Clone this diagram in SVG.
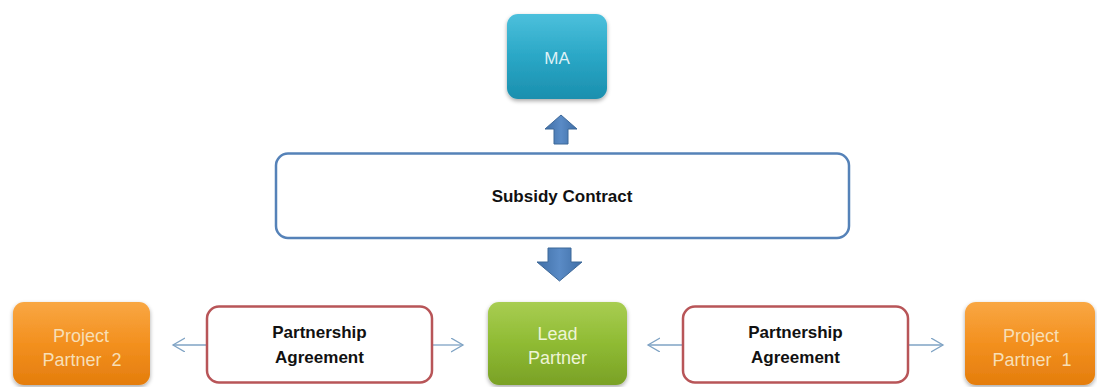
<svg xmlns="http://www.w3.org/2000/svg" width="1097" height="387" viewBox="0 0 1097 387">
<style>
  .lbl{font-family:"Liberation Sans",Arial,sans-serif;text-anchor:middle;white-space:pre}
  .bold{font-weight:bold;fill:#111;font-size:17px}
  .light{font-size:18px}
  .doc{fill:#fff;stroke-width:2.5}
  .conn{stroke:#7fa3c4;stroke-width:1.3;fill:none}
  .block{stroke:#3d6898;stroke-width:1}
</style>
<defs>
  <linearGradient id="gTeal" x1="0" y1="0" x2="0" y2="1">
    <stop offset="0" stop-color="#4cc0dc"/>
    <stop offset="0.5" stop-color="#2aa7c6"/>
    <stop offset="1" stop-color="#1b8fae"/>
  </linearGradient>
  <linearGradient id="gOrange" x1="0" y1="0" x2="0" y2="1">
    <stop offset="0" stop-color="#f9a743"/>
    <stop offset="0.5" stop-color="#f3901f"/>
    <stop offset="1" stop-color="#e47d0c"/>
  </linearGradient>
  <linearGradient id="gGreen" x1="0" y1="0" x2="0" y2="1">
    <stop offset="0" stop-color="#a8cd52"/>
    <stop offset="0.5" stop-color="#8fbb33"/>
    <stop offset="1" stop-color="#7aa126"/>
  </linearGradient>
  <linearGradient id="gBlue" x1="0" y1="0" x2="1" y2="0">
    <stop offset="0" stop-color="#3f6ea6"/>
    <stop offset="0.5" stop-color="#5a8bc6"/>
    <stop offset="1" stop-color="#3f6ea6"/>
  </linearGradient>
  <filter id="shadow" x="-10%" y="-10%" width="120%" height="130%">
    <feGaussianBlur in="SourceAlpha" stdDeviation="2"/>
    <feOffset dx="0" dy="2" result="b"/>
    <feComponentTransfer><feFuncA type="linear" slope="0.35"/></feComponentTransfer>
    <feMerge><feMergeNode/><feMergeNode in="SourceGraphic"/></feMerge>
  </filter>
  <marker id="chev" markerUnits="userSpaceOnUse" markerWidth="14" markerHeight="16" refX="12" refY="7" orient="auto">
    <path d="M0,0 L12,7 L0,14" fill="none" stroke="#7fa3c4" stroke-width="1.3"/>
  </marker>
</defs>

<g id="connectors">
  <polygon class="block" fill="url(#gBlue)" points="561,115 577,129 568,129 568,144 554,144 554,129 545,129"/>
  <polygon class="block" fill="url(#gBlue)" points="548,248 571,248 571,262 582,262 559.5,281 537,262 548,262"/>
  <line class="conn" x1="206" y1="345" x2="173" y2="345" marker-end="url(#chev)"/>
  <line class="conn" x1="432" y1="345" x2="463" y2="345" marker-end="url(#chev)"/>
  <line class="conn" x1="683" y1="345" x2="648" y2="345" marker-end="url(#chev)"/>
  <line class="conn" x1="908" y1="345" x2="943" y2="345" marker-end="url(#chev)"/>
</g>

<g id="ma">
  <rect x="507" y="14" width="100" height="85" rx="11" fill="url(#gTeal)" filter="url(#shadow)"/>
  <text class="lbl" x="557" y="64" font-size="17" fill="#dff1f6">MA</text>
</g>

<g id="subsidy-contract">
  <rect class="doc" x="276" y="153.5" width="573" height="84.5" rx="12" stroke="#5582b8"/>
  <text class="lbl bold" x="562" y="202">Subsidy Contract</text>
</g>

<g id="project-partner-2">
  <rect x="13" y="302" width="137" height="83" rx="11" fill="url(#gOrange)" filter="url(#shadow)"/>
  <text class="lbl light" x="81" y="342" fill="#f7dfb6">Project</text>
  <text class="lbl light" x="82" y="366" fill="#f7dfb6">Partner  2</text>
</g>

<g id="pa-left">
  <rect class="doc" x="207" y="306.5" width="225" height="76" rx="12" stroke="#b85558"/>
  <text class="lbl bold" x="319.5" y="338">Partnership</text>
  <text class="lbl bold" x="319.5" y="363">Agreement</text>
</g>

<g id="lead-partner">
  <rect x="488" y="302" width="139" height="83" rx="11" fill="url(#gGreen)" filter="url(#shadow)"/>
  <text class="lbl light" x="557.5" y="340" fill="#eef4d6">Lead</text>
  <text class="lbl light" x="557.5" y="364" fill="#eef4d6">Partner</text>
</g>

<g id="pa-right">
  <rect class="doc" x="683" y="306.5" width="225" height="76" rx="12" stroke="#b85558"/>
  <text class="lbl bold" x="795.5" y="338">Partnership</text>
  <text class="lbl bold" x="795.5" y="363">Agreement</text>
</g>

<g id="project-partner-1">
  <rect x="965" y="302" width="130" height="83" rx="11" fill="url(#gOrange)" filter="url(#shadow)"/>
  <text class="lbl light" x="1031" y="342" fill="#f7dfb6">Project</text>
  <text class="lbl light" x="1032" y="366" fill="#f7dfb6">Partner  1</text>
</g>
</svg>
